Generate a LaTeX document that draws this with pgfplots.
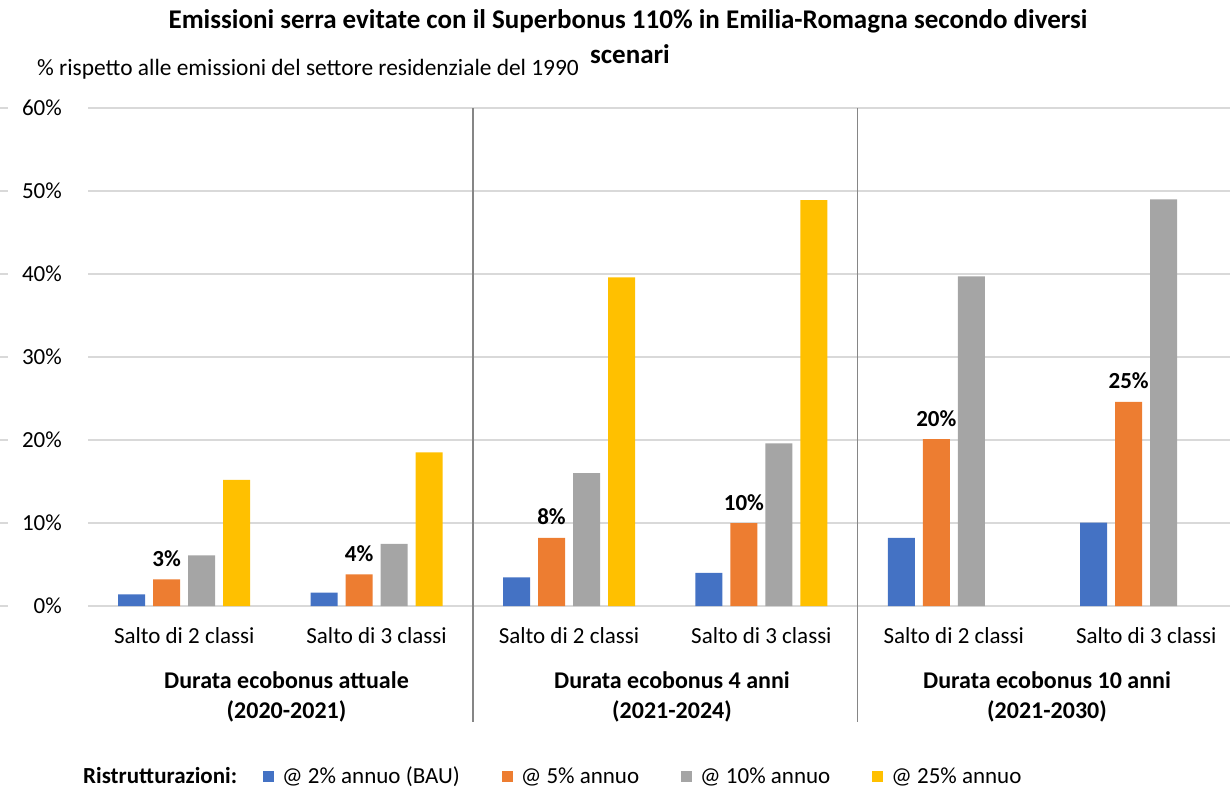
\documentclass[border=0pt]{standalone}
\usepackage{fontspec}
\setmainfont{Carlito}
\usepackage{pgfplots}
\pgfplotsset{compat=1.18}
\definecolor{cblue}{HTML}{4472C4}
\definecolor{corange}{HTML}{ED7D31}
\definecolor{cgray}{HTML}{A5A5A5}
\definecolor{cyellow}{HTML}{FFC000}
\definecolor{gridc}{HTML}{D9D9D9}
\definecolor{sepc}{HTML}{868686}
\pgfplotsset{sqlegend/.style={legend image code/.code={\fill[##1] (0pt,-5.5pt) rectangle (11pt,5.5pt);}}}
\newcommand\fs{\fontsize{23}{27}\selectfont}
\newcommand\fst{\fontsize{27}{32}\selectfont}
\newcommand\fsg{\fontsize{24}{28}\selectfont}
\begin{document}
\begin{tikzpicture}
\useasboundingbox (0,0) rectangle (1230pt,788pt);
\begin{axis}[
  at={(88pt,182pt)}, anchor=south west,
  scale only axis, width=1142pt, height=498pt,
  xmin=-0.5, xmax=5.4356, ymin=0, ymax=60,
  ybar, bar width=27pt,
  axis line style={draw=none},
  ymajorgrids, grid style={gridc, line width=1.2pt},
  ytick={0,10,...,60}, yticklabel={\pgfmathprintnumber{\tick}\%},
  xtick={0,...,5},
  xticklabels={Salto di 2 classi,Salto di 3 classi,Salto di 2 classi,Salto di 3 classi,Salto di 2 classi,Salto di 3 classi},
  major tick length=0pt,
  tick label style={font=\fs},
  yticklabel style={anchor=east, inner sep=0pt, xshift=-26pt},
  xticklabel style={anchor=base, inner sep=0pt, yshift=-37pt},
  /pgf/number format/assume math mode=true,
  clip=false,
  legend columns=5,
  legend style={at={(-0.014,-0.3414)}, anchor=west, draw=none, fill=none, font=\fs,
    nodes={inner sep=0pt}, column sep=8pt,
    /tikz/every even column/.append style={column sep=42pt}},
]
\addlegendimage{empty legend}
\addlegendentry{\textbf{Ristrutturazioni:}\kern-16pt}
\addplot[fill=cblue, draw=none, bar shift=-52.5pt, sqlegend] coordinates {(0,1.4) (1,1.6) (2,3.45) (3,4.0) (4,8.2) (5,10.05)};
\addlegendentry{@ 2\% annuo (BAU)}
\addplot[fill=corange, draw=none, bar shift=-17.5pt, sqlegend,
  nodes near coords={\pgfmathprintnumber[fixed,precision=0]{\pgfplotspointmeta}\%},
  nodes near coords style={anchor=base, inner sep=0pt, yshift=13pt, font=\fs\bfseries, text=black},
  ] coordinates {(0,3.2) (1,3.8) (2,8.2) (3,10.0) (4,20.1) (5,24.6)};
\addlegendentry{@ 5\% annuo}
\addplot[fill=cgray, draw=none, bar shift=17.5pt, sqlegend] coordinates {(0,6.1) (1,7.5) (2,16.0) (3,19.6) (4,39.7) (5,49.0)};
\addlegendentry{@ 10\% annuo}
\addplot[fill=cyellow, draw=none, bar shift=52.5pt, sqlegend] coordinates {(0,15.2) (1,18.5) (2,39.6) (3,48.9)};
\addlegendentry{@ 25\% annuo}
\draw[sepc, line width=1.5pt] (axis cs:1.5,60) -- ([yshift=-116pt]axis cs:1.5,0);
\draw[sepc, line width=1.5pt] (axis cs:3.5,60) -- ([yshift=-116pt]axis cs:3.5,0);
\end{axis}
\foreach \i in {0,...,6} \draw[gridc, line width=1.2pt] (0pt,{182pt+\i*83pt}) -- (8pt,{182pt+\i*83pt});
\node[font=\fst\bfseries, anchor=base, inner sep=0pt] at (628pt,759pt) {Emissioni serra evitate con il Superbonus 110\% in Emilia-Romagna secondo diversi};
\node[font=\fst\bfseries, anchor=base, inner sep=0pt] at (630pt,724pt) {scenari};
\node[font=\fontsize{23.4}{28}\selectfont, anchor=base west, inner sep=0pt] at (37pt,712pt) {\% rispetto alle emissioni del settore residenziale del 1990};
\node[font=\fsg\bfseries, anchor=base, inner sep=0pt] at (286.5pt,100pt) {Durata ecobonus attuale};
\node[font=\fsg\bfseries, anchor=base, inner sep=0pt] at (286.5pt,70pt) {(2020-2021)};
\node[font=\fsg\bfseries, anchor=base, inner sep=0pt] at (672pt,100pt) {Durata ecobonus 4 anni};
\node[font=\fsg\bfseries, anchor=base, inner sep=0pt] at (672pt,70pt) {(2021-2024)};
\node[font=\fsg\bfseries, anchor=base, inner sep=0pt] at (1047pt,100pt) {Durata ecobonus 10 anni};
\node[font=\fsg\bfseries, anchor=base, inner sep=0pt] at (1047pt,70pt) {(2021-2030)};
\end{tikzpicture}
\end{document}
